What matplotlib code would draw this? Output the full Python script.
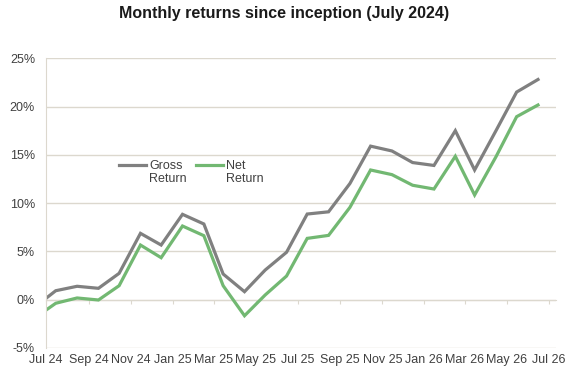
import numpy as np
import pandas as pd
import matplotlib
matplotlib.use("Agg")
import matplotlib.pyplot as plt
import matplotlib.dates as mdates
from matplotlib.lines import Line2D
from matplotlib.ticker import FuncFormatter

plt.rcParams['font.family'] = ['Liberation Sans', 'DejaVu Sans']

# inception point, then one point per month
dates = ["2024-07-01"] + [d.strftime("%Y-%m-15") for d in pd.date_range("2024-07-01", "2026-06-01", freq="MS")]
gross = [0.15, 0.93, 1.39, 1.18, 2.73, 6.87, 5.66, 8.84, 7.84, 2.66, 0.83, 3.07, 4.91,
         8.87, 9.1, 12.03, 15.9, 15.4, 14.2, 13.9, 17.5, 13.43, 17.5, 21.5, 22.8]
net = [-1.07, -0.37, 0.18, -0.03, 1.45, 5.66, 4.35, 7.63, 6.63, 1.45, -1.66, 0.49, 2.45,
       6.35, 6.66, 9.56, 13.43, 12.95, 11.85, 11.46, 14.85, 10.84, 14.8, 18.95, 20.16]
dates = pd.to_datetime(dates)

grid_c = '#dcd8ce'
txt_c = '#404040'

fig = plt.figure(figsize=(5.69, 3.71), dpi=100)
ax = fig.add_axes([0.081, 0.062, 0.896, 0.781])

lg, = ax.plot(dates, gross, color='#808080', lw=2.3, solid_joinstyle='miter')
ln, = ax.plot(dates, net, color='#72b872', lw=2.3, solid_joinstyle='miter')

ax.set_ylim(-5, 25)
ax.set_yticks(np.arange(-5, 26, 5))
ax.yaxis.set_major_formatter(FuncFormatter(lambda v, p: f'{v:.0f}%'))
ax.set_xlim(pd.Timestamp("2024-07-01"), pd.Timestamp("2026-07-11"))
ax.xaxis.set_major_locator(mdates.MonthLocator(bymonth=[1, 3, 5, 7, 9, 11]))
ax.xaxis.set_major_formatter(mdates.DateFormatter('%b %y'))

ax.grid(axis='y', color=grid_c, lw=1)
ax.set_axisbelow(True)
for s in ['top', 'right', 'bottom']:
    ax.spines[s].set_visible(False)
ax.spines['left'].set_color(grid_c)
ax.tick_params(axis='both', length=0, colors=txt_c, labelsize=9)
ax.tick_params(axis='y', pad=8)
ax.tick_params(axis='x', pad=4)

# category axis crossing at 0%
sec = ax.secondary_xaxis(1 / 6)
sec.xaxis.set_major_locator(mdates.MonthLocator(bymonth=[1, 3, 5, 7, 9, 11]))
sec.tick_params(length=3, color=grid_c, labelbottom=False)
sec.spines['bottom'].set_color(grid_c)

# legend: handle beside first line of a two-line label
blank = Line2D([], [], color='none')
ax.legend([lg, blank, ln, blank], ['Gross', 'Return', 'Net', 'Return'],
          loc='upper left', bbox_to_anchor=(0.12, 0.688), ncol=2, frameon=False,
          fontsize=9, handlelength=2.2, handletextpad=0.25, columnspacing=0.7,
          labelspacing=0.1, labelcolor=txt_c)

fig.suptitle('Monthly returns since inception (July 2024)', fontsize=11.5,
             fontweight='bold', color='#1a1a1a', x=0.5, y=0.985)

fig.savefig('out.png', dpi=100)
